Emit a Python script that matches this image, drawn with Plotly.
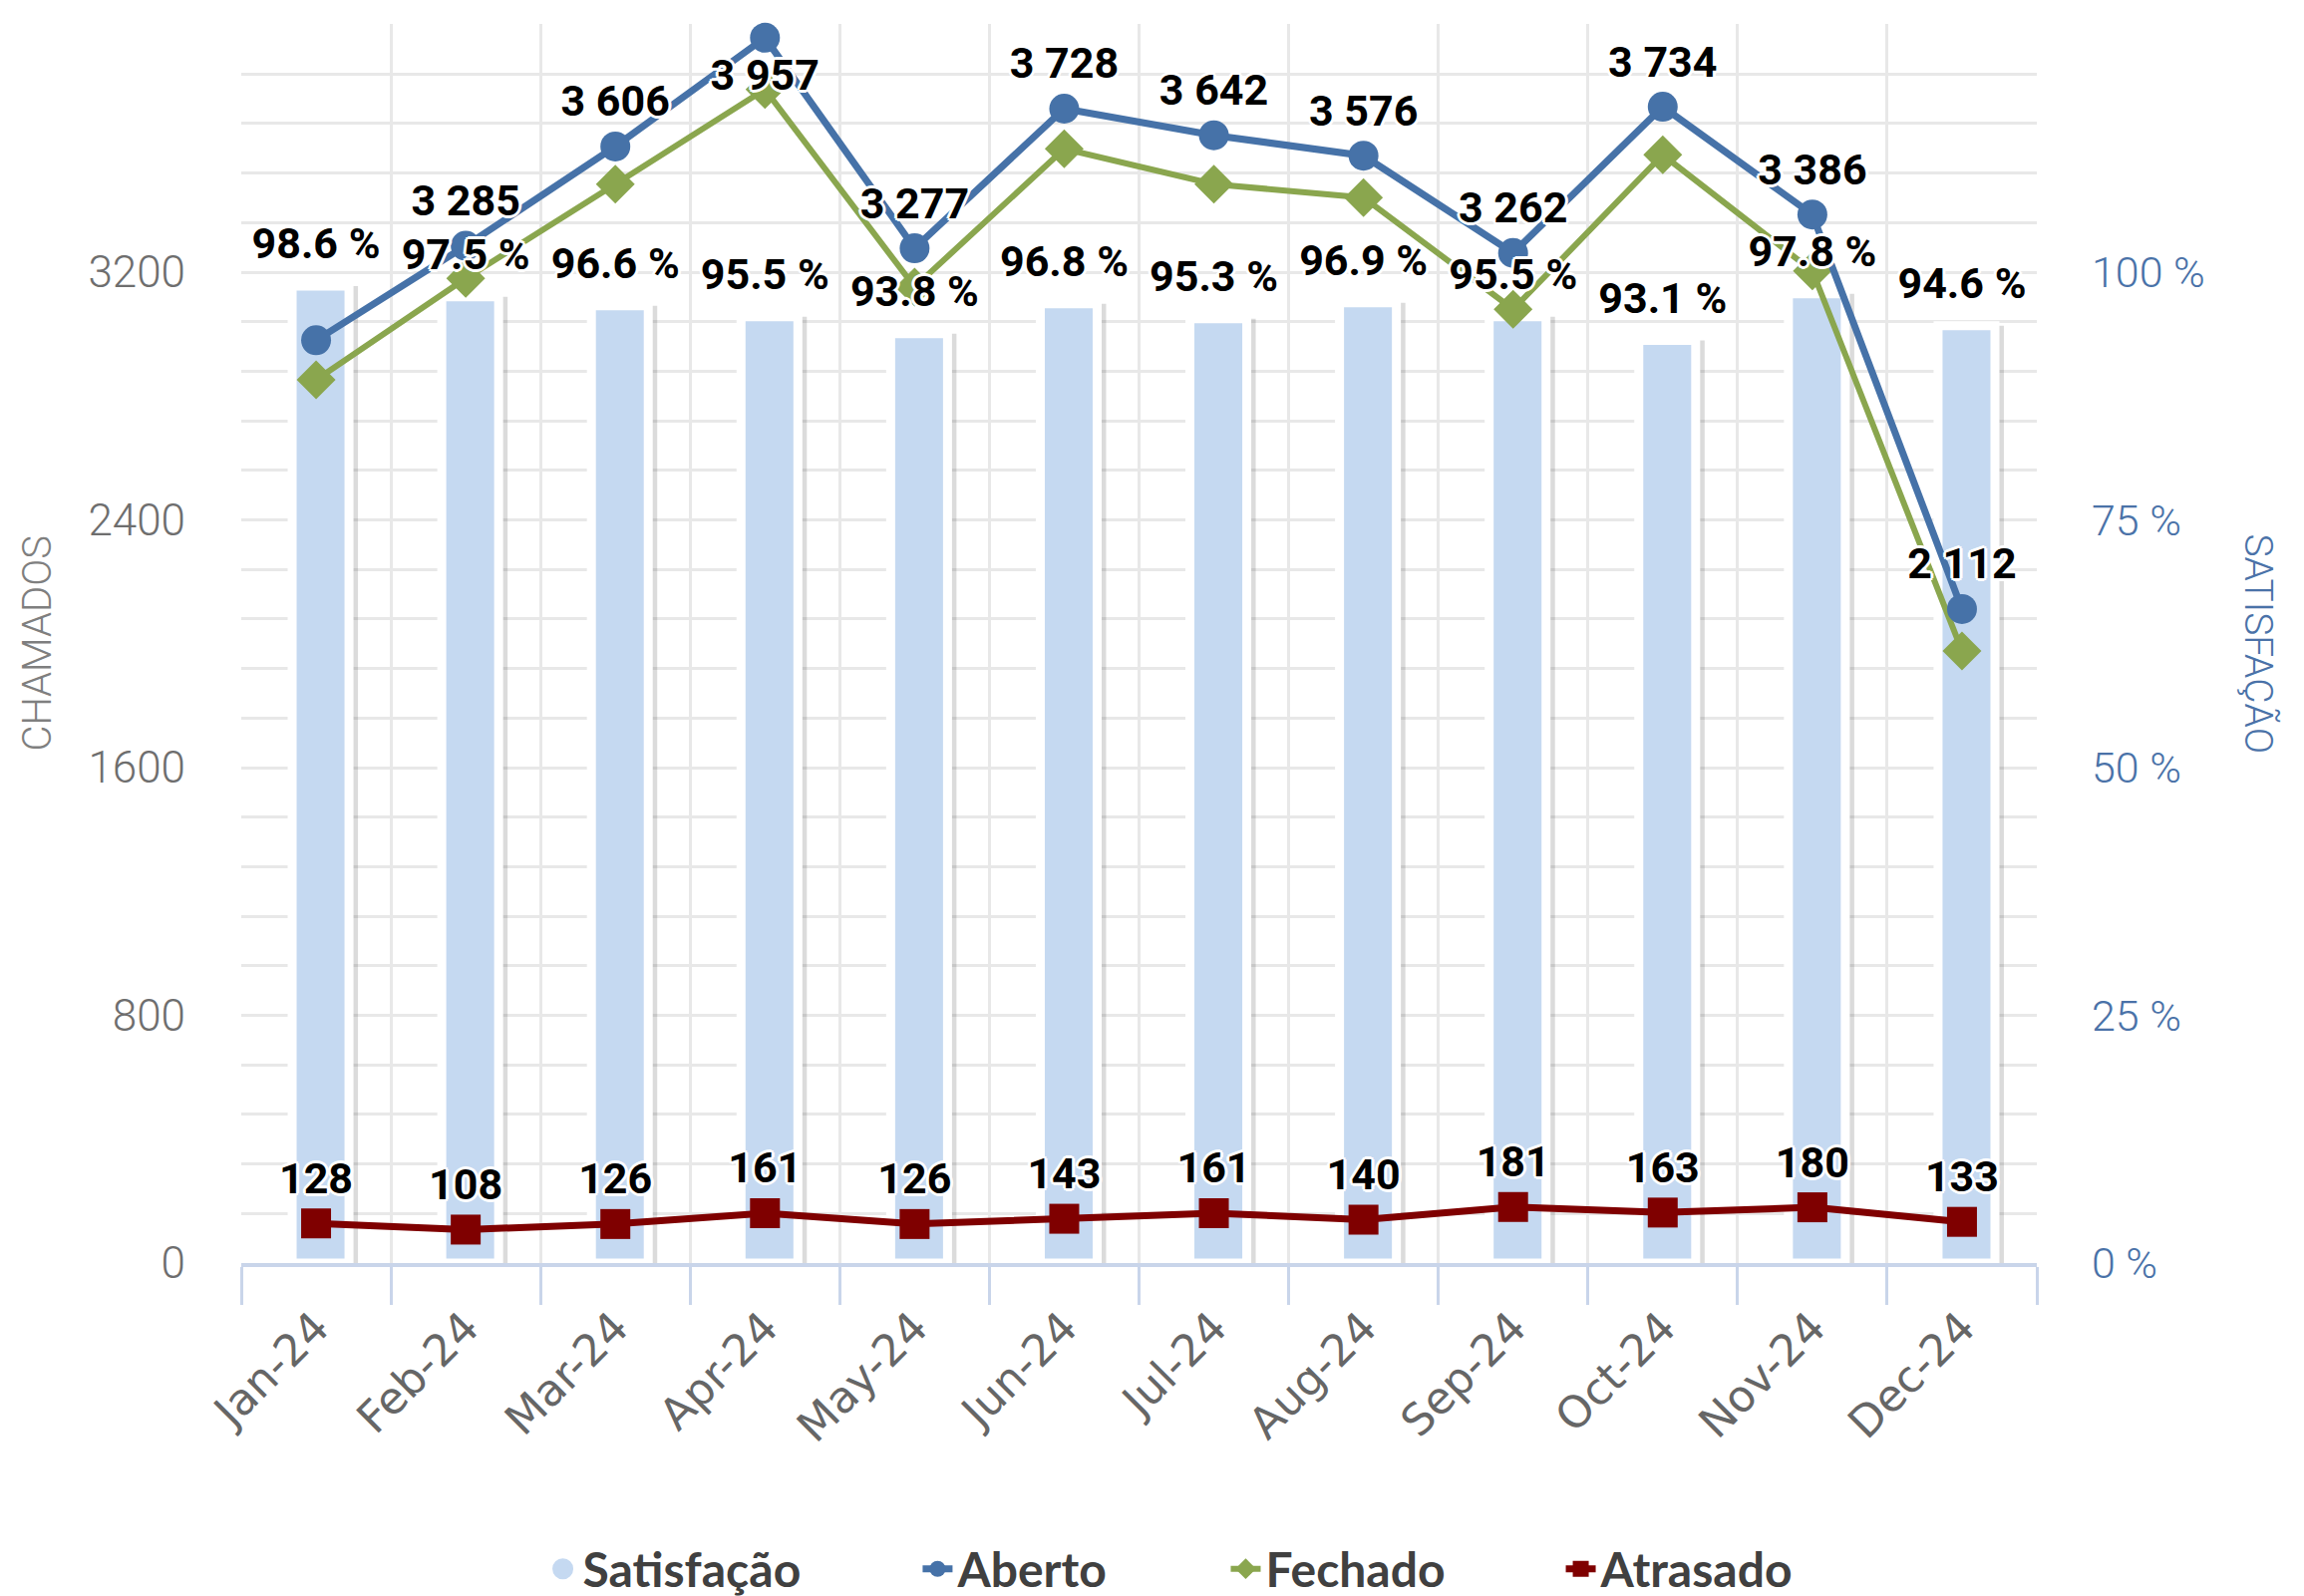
import plotly.graph_objects as go

months = ["Jan-24", "Feb-24", "Mar-24", "Apr-24", "May-24", "Jun-24",
          "Jul-24", "Aug-24", "Sep-24", "Oct-24", "Nov-24", "Dec-24"]
satisfacao = [98.6, 97.5, 96.6, 95.5, 93.8, 96.8, 95.3, 96.9, 95.5, 93.1, 97.8, 94.6]
aberto = [2980, 3285, 3606, 3957, 3277, 3728, 3642, 3576, 3262, 3734, 3386, 2112]
fechado = [2852, 3180, 3484, 3790, 3152, 3598, 3484, 3441, 3080, 3579, 3204, 1977]
atrasado = [128, 108, 126, 161, 126, 143, 161, 140, 181, 163, 180, 133]

left_ticks = [0, 800, 1600, 2400, 3200]
right_ticks = [0, 25, 50, 75, 100, 125]
right_ticktext = [f"{v} %" for v in right_ticks]

C_BAR = "#c5d9f1"
C_ABERTO = "#4672a8"
C_FECHADO = "#8aa64e"
C_ATRASADO = "#7f0000"
C_GRID = "#e8e8e8"
C_AXIS = "#c9d5ea"

LABEL_FAM = "Roboto, Liberation Sans, sans-serif"
OUTLINE = ("white 3px 0px 0px, white -3px 0px 0px, white 0px 3px 0px, white 0px -3px 0px, "
           "white 2px 2px 0px, white -2px -2px 0px, white 2px -2px 0px, white -2px 2px 0px")
LABEL_FONT = dict(family=LABEL_FAM, size=43, color="black", weight="bold", shadow=OUTLINE)
LEGEND_FONT = dict(family="Lato, Roboto, sans-serif", size=48, color="#404040", weight="bold")

fig = go.Figure()

# bar shadow
fig.add_trace(go.Bar(x=months, y=satisfacao, yaxis="y", width=0.44, offset=-0.16,
                     marker=dict(color="rgba(0,0,0,0.14)", line=dict(width=0)),
                     showlegend=False, hoverinfo="skip"))
# bars
fig.add_trace(go.Bar(x=months, y=satisfacao, yaxis="y", width=0.38, offset=-0.16,
                     name="Satisfação",
                     marker=dict(color=C_BAR, line=dict(color="white", width=9)),
                     showlegend=False))

fig.add_trace(go.Scatter(x=months, y=fechado, yaxis="y2", name="Fechado", mode="lines+markers",
                         line=dict(color=C_FECHADO, width=6),
                         marker=dict(symbol="diamond", size=30, color=C_FECHADO,
                                     line=dict(color=C_FECHADO, width=0)),
                         legend="legend3", cliponaxis=False))

aberto_templates = ["" if m == "Jan-24" else "%{y:,.0f}" for m in months]
aberto_positions = ["bottom center" if m == "Apr-24" else "top center" for m in months]
fig.add_trace(go.Scatter(x=months, y=aberto, yaxis="y2", name="Aberto", mode="lines+markers+text",
                         line=dict(color=C_ABERTO, width=7),
                         marker=dict(symbol="circle", size=30, color=C_ABERTO),
                         texttemplate=aberto_templates, textposition=aberto_positions,
                         textfont=LABEL_FONT, legend="legend2", cliponaxis=False))

fig.add_trace(go.Scatter(x=months, y=atrasado, yaxis="y2", name="Atrasado", mode="lines+markers+text",
                         line=dict(color=C_ATRASADO, width=7),
                         marker=dict(symbol="square", size=30, color=C_ATRASADO),
                         texttemplate="%{y:,.0f}", textposition="top center",
                         textfont=LABEL_FONT, legend="legend4", cliponaxis=False))

# satisfaction labels on top of everything
fig.add_trace(go.Scatter(x=months, y=satisfacao, yaxis="y3", mode="markers+text",
                         marker=dict(size=26, color="rgba(0,0,0,0)"),
                         texttemplate="%{y:.1f} %", textposition="top center",
                         textfont=LABEL_FONT, showlegend=False, cliponaxis=False,
                         hoverinfo="skip"))

# legend entry for bars (circle)
fig.add_trace(go.Scatter(x=[None], y=[None], yaxis="y3", mode="markers", name="Satisfação",
                         marker=dict(symbol="circle", size=30, color=C_BAR,
                                     line=dict(color=C_BAR, width=5)),
                         legend="legend"))

LEG_Y = -0.247
def leg(x):
    return dict(orientation="h", x=x, xanchor="left", y=LEG_Y, yanchor="middle",
                font=LEGEND_FONT, itemsizing="trace", bgcolor="rgba(0,0,0,0)")

fig.update_layout(
    width=2311, height=1601,
    margin=dict(l=234, r=276, t=16, b=342, autoexpand=False),
    paper_bgcolor="white", plot_bgcolor="white",
    separators=". ",
    barmode="overlay",
    showlegend=True,
    legend=leg(0.168), legend2=leg(0.3767), legend3=leg(0.5483), legend4=leg(0.7349),
    xaxis=dict(type="category", tickson="boundaries", showgrid=True, gridcolor=C_GRID, gridwidth=3,
               ticks="outside", ticklen=38, tickwidth=3, tickcolor=C_AXIS,
               showline=True, linecolor=C_AXIS, linewidth=4, automargin=False,
               tickangle=-45, ticklabelstandoff=17,
               tickfont=dict(family="DejaVu Sans, Verdana, sans-serif", size=44, color="#666666"),
               range=[-0.5, 11.5]),
    yaxis=dict(side="right", range=[0, 125.05], tickvals=right_ticks, ticktext=right_ticktext,
               tickfont=dict(family=LABEL_FAM, size=43, color="#4a72a8", weight=300),
               showgrid=True, gridcolor=C_GRID, gridwidth=3, zeroline=False, automargin=False,
               minor=dict(dtick=5, tick0=0, showgrid=True, gridcolor=C_GRID, gridwidth=3),
               ticklabelstandoff=54, showline=False),
    yaxis2=dict(overlaying="y", side="left", range=[0, 4001.6], tickvals=left_ticks,
                tickfont=dict(family=LABEL_FAM, size=44, color="#6e6e6e", weight=300),
                showgrid=False, zeroline=False, ticklabelstandoff=55, showline=False,
                automargin=False),
    yaxis3=dict(overlaying="y", range=[0, 125.05], visible=False),
    annotations=[
        dict(text="CHAMADOS", xref="paper", yref="paper", x=-0.1138, y=0.5, textangle=-90,
             showarrow=False, font=dict(family=LABEL_FAM, size=40, color="#7f7f7f", weight=300),
             xanchor="center", yanchor="middle"),
        dict(text="SATISFAÇÃO", xref="paper", yref="paper", x=1.1233, y=0.5, textangle=90,
             showarrow=False, font=dict(family=LABEL_FAM, size=39, color="#4a72a8", weight=300),
             xanchor="center", yanchor="middle"),
    ],
)

fig.write_html("out.html")
